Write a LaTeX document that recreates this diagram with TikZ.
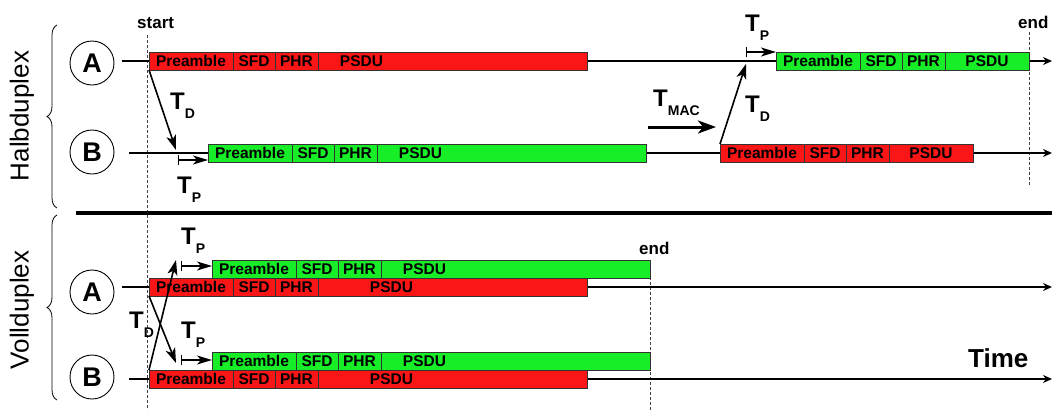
\documentclass[tikz,border=0pt]{standalone}
\usepackage{fontspec}
\setmainfont{Liberation Sans}
\usetikzlibrary{arrows.meta,positioning,decorations.pathreplacing}

\definecolor{pktred}{RGB}{250,22,22}
\definecolor{pktgreen}{RGB}{24,238,40}

\newcommand{\tsub}[1]{T\raisebox{-9pt}{\fontsize{14}{14}\selectfont #1}}

% packet: name, x, y, colour, PSDU width, PSDU text shift
\newcommand{\pkt}[6]{%
  \node[seg,fill=#4,minimum width=84pt,anchor=west] (#1_p) at (#2,#3) {Preamble};
  \node[seg,fill=#4,minimum width=42pt,right=0pt of #1_p] (#1_s) {SFD};
  \node[seg,fill=#4,minimum width=43pt,right=0pt of #1_s] (#1_h) {PHR};
  \node[seg,fill=#4,minimum width=#5pt,right=0pt of #1_h,
        label={[seglab,xshift=#6pt]center:PSDU}] (#1_d) {};
}

\begin{document}
\begin{tikzpicture}[x=1pt,y=-1pt,
    seg/.style={draw=black!80,line width=0.8pt,minimum height=18pt,inner sep=0pt,outer sep=0pt,font=\fontsize{15.5}{15.5}\selectfont\bfseries},
    seglab/.style={inner sep=0pt,font=\fontsize{15.5}{15.5}\selectfont\bfseries},
    station/.style={circle,draw,line width=0.9pt,minimum size=44pt,inner sep=0pt,font=\fontsize{27}{27}\selectfont\bfseries},
    tline/.style={line width=1.7pt,-{Stealth[length=9pt,width=8pt]}},
    delay/.style={line width=1.6pt,-{Stealth[length=15pt,width=10pt,inset=4pt]}},
    prop/.style={line width=1.1pt,{Bar[width=10pt]}-{Stealth[length=15pt,width=9pt,inset=4pt]}},
    macarrow/.style={line width=3pt,-{Stealth[length=18pt,width=13pt,inset=5pt]}},
    guide/.style={densely dashed,line width=0.6pt,black!75},
    tlab/.style={inner sep=0pt,anchor=base west,font=\fontsize{24}{24}\selectfont\bfseries},
    small/.style={inner sep=0pt,anchor=base west,font=\fontsize{17}{17}\selectfont\bfseries},
    side/.style={rotate=90,inner sep=0pt,font=\fontsize{26}{26}\selectfont},
    grp/.style={decorate,decoration={brace,amplitude=10pt},line width=0.8pt}]
    \useasboundingbox (0,0) rectangle (1052,410);

    % start / end guides
    \coordinate (st_t) at (147,35);
    \coordinate (st_b) at (147,410);
    \coordinate (eh_t) at (1029,32);
    \coordinate (eh_b) at (1029,185);
    \coordinate (ev_t) at (650,262);
    \coordinate (ev_b) at (650,410);
    \draw[guide] (st_t) -- (st_b);
    \draw[guide] (eh_t) -- (eh_b);
    \draw[guide] (ev_t) -- (ev_b);
    \node[small] (start) at (137,28) {start};
    \node[small] (end_h) at (1018,28) {end};
    \node[small] (end_v) at (639,254) {end};

    % Halbduplex
    \node[station] (hA) at (92,63) {A};
    \node[station] (hB) at (92,152) {B};
    \coordinate (hA_s) at (122,61);
    \coordinate (hA_e) at (1052,61);
    \coordinate (hB_s) at (129,153);
    \coordinate (hB_e) at (1052,153);
    \draw[tline] (hA_s) -- (hA_e);
    \draw[tline] (hB_s) -- (hB_e);

    \pkt{hA1}{149}{61}{pktred}{269}{-91}
    \pkt{hB1}{208}{153}{pktgreen}{269}{-91}
    \pkt{hA2}{776}{61}{pktgreen}{84}{0}
    \pkt{hB2}{720}{153}{pktred}{84}{0}

    \coordinate (hTD_e) at (176,150);
    \draw[delay] (hA1_p.south west) -- (hTD_e);
    \node[tlab] (hTD) at (170,109) {\tsub{D}};
    \coordinate (hTP_s) at (178,160);
    \draw[prop] (hTP_s) -- (hTP_s -| hB1_p.west);
    \node[tlab] (hTP) at (177,193) {\tsub{P}};

    \coordinate (mac_s) at (648,127);
    \coordinate (mac_e) at (716,127);
    \draw[macarrow] (mac_s) -- (mac_e);
    \node[tlab] (tmac) at (653,106) {\tsub{MAC}};

    \coordinate (hTD2_e) at (746,64);
    \draw[delay] (hB2_p.north west) -- (hTD2_e);
    \node[tlab] (hTD2) at (745,112) {\tsub{D}};
    \coordinate (hTP2_s) at (746,52);
    \draw[prop] (hTP2_s) -- (hTP2_s -| hA2_p.west);
    \node[tlab] (hTP2) at (745,31) {\tsub{P}};

    % separator
    \coordinate (sep_l) at (76,213);
    \coordinate (sep_r) at (1052,213);
    \draw[line width=4pt] (sep_l) -- (sep_r);

    % Vollduplex
    \node[station] (vA) at (92,292) {A};
    \node[station] (vB) at (92,377) {B};
    \coordinate (vA_s) at (122,287);
    \coordinate (vA_e) at (1052,287);
    \coordinate (vB_s) at (129,379);
    \coordinate (vB_e) at (1052,379);
    \draw[tline] (vA_s) -- (vA_e);
    \draw[tline] (vB_s) -- (vB_e);

    \pkt{vAg}{212}{269}{pktgreen}{269}{-91}
    \pkt{vAr}{149}{287}{pktred}{269}{-61}
    \pkt{vBg}{212}{361}{pktgreen}{269}{-91}
    \pkt{vBr}{149}{379}{pktred}{269}{-61}

    \coordinate (vX1_e) at (176,363);
    \coordinate (vX2_e) at (176,260);
    \draw[delay] (vAr_p.south west) -- (vX1_e);
    \draw[delay] (vBr_p.north west) -- (vX2_e);
    \node[tlab] (vTD) at (129,328) {\tsub{D}};
    \coordinate (vTP1_s) at (181,266);
    \draw[prop] (vTP1_s) -- (vTP1_s -| vAg_p.west);
    \node[tlab] (vTP1) at (181,244) {\tsub{P}};
    \coordinate (vTP2_s) at (181,360);
    \draw[prop] (vTP2_s) -- (vTP2_s -| vBg_p.west);
    \node[tlab] (vTP2) at (181,338) {\tsub{P}};

    \node[inner sep=0pt,anchor=base west,font=\fontsize{26}{26}\selectfont\bfseries] (time) at (968,367) {Time};

    % braces
    \coordinate (bh_b) at (57,208);
    \coordinate (bh_t) at (57,25);
    \coordinate (bv_b) at (57,400);
    \coordinate (bv_t) at (57,215);
    \draw[grp] (bh_b) -- (bh_t);
    \draw[grp] (bv_b) -- (bv_t);
    \node[side] (lh) at (22,116) {Halbduplex};
    \node[side] (lv) at (22,310) {Vollduplex};
\end{tikzpicture}
\end{document}
